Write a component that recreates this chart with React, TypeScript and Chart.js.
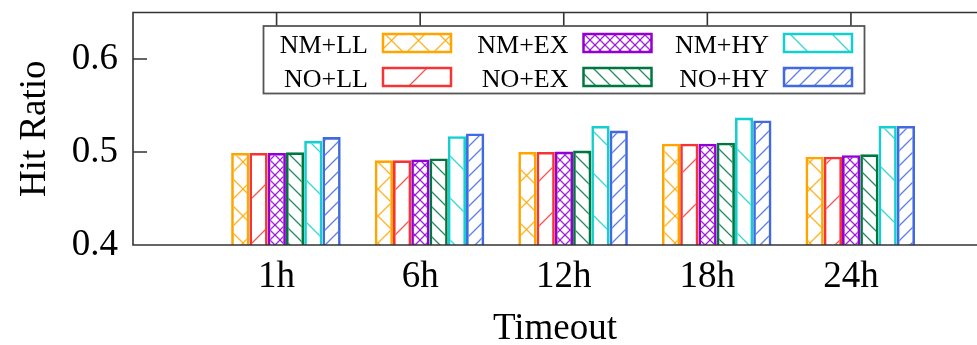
import { useEffect, useRef } from 'react';
import { Chart, registerables } from 'chart.js';

Chart.register(...registerables);

// ---- data ----
const categories = ['1h', '6h', '12h', '18h', '24h'];
const seriesNames = ['NM+LL', 'NO+LL', 'NM+EX', 'NO+EX', 'NM+HY', 'NO+HY'];
const nmLL = [0.499, 0.491, 0.5, 0.509, 0.495];
const noLL = [0.499, 0.491, 0.5, 0.509, 0.495];
const nmEX = [0.499, 0.492, 0.5005, 0.509, 0.4965];
const noEX = [0.4997, 0.493, 0.5015, 0.51, 0.4975];
const nmHY = [0.512, 0.517, 0.528, 0.537, 0.528];
const noHY = [0.516, 0.52, 0.523, 0.534, 0.528];
const seriesValues = [nmLL, noLL, nmEX, noEX, nmHY, noHY];
const yTicks = [0.4, 0.5, 0.6];

// ---- styles ----
const FONT = "'Liberation Serif', 'Times New Roman', serif";
const GROUP_SHIFT = 0.065;
const seriesStyles = [
  { color: '#FFA500', kind: 'x', period: 27 },
  { color: '#F53535', kind: '/', period: 45 },
  { color: '#9400D3', kind: 'x', period: 10 },
  { color: '#00773F', kind: '\\', period: 15 },
  { color: '#14CFCF', kind: '\\', period: 42 },
  { color: '#4169E1', kind: '/', period: 15 },
];

function makePattern(color: string, kind: string, T: number) {
  const c = document.createElement('canvas');
  c.width = T;
  c.height = T;
  const g = c.getContext('2d')!;
  g.strokeStyle = color;
  g.globalAlpha = 0.85;
  g.lineWidth = 1.3;
  const slash = () => {
    g.beginPath();
    g.moveTo(-1, T + 1); g.lineTo(T + 1, -1);
    g.moveTo(-2, 2); g.lineTo(2, -2);
    g.moveTo(T - 2, T + 2); g.lineTo(T + 2, T - 2);
    g.stroke();
  };
  const back = () => {
    g.beginPath();
    g.moveTo(-1, -1); g.lineTo(T + 1, T + 1);
    g.moveTo(T - 2, -2); g.lineTo(T + 2, 2);
    g.moveTo(-2, T - 2); g.lineTo(2, T + 2);
    g.stroke();
  };
  if (kind === '/' || kind === 'x') slash();
  if (kind === '\\' || kind === 'x') back();
  return g.createPattern(c, 'repeat')!;
}

export default function App() {
  const ref = useRef<HTMLCanvasElement | null>(null);

  useEffect(() => {
    if (!ref.current) return;
    const patterns = seriesStyles.map((s) => makePattern(s.color, s.kind, s.period));

    const framePlugin = {
      id: 'frameAndLegend',
      afterDatasetsDraw(chart: any) {
        const { ctx, chartArea: a, scales } = chart;
        ctx.save();
        ctx.strokeStyle = '#333';
        ctx.lineWidth = 1.6;
        ctx.beginPath();
        ctx.moveTo(a.right + 5, a.top);
        ctx.lineTo(a.left, a.top);
        ctx.lineTo(a.left, a.bottom);
        ctx.lineTo(a.right + 5, a.bottom);
        for (const v of yTicks) {
          const y = scales.y.getPixelForValue(v);
          ctx.moveTo(a.left, y);
          ctx.lineTo(a.left + 14, y);
        }
        categories.forEach((_, i) => {
          const x = scales.x.getPixelForValue(i);
          ctx.moveTo(x, a.top);
          ctx.lineTo(x, a.top + 20);
        });
        ctx.stroke();

        // legend
        const lx = 263.5, ly = 26, lw = 601, lh = 67.5;
        ctx.fillStyle = '#fff';
        ctx.fillRect(lx, ly, lw, lh);
        ctx.strokeStyle = '#555';
        ctx.lineWidth = 1.8;
        ctx.strokeRect(lx, ly, lw, lh);
        ctx.font = `26px ${FONT}`;
        ctx.textAlign = 'right';
        ctx.textBaseline = 'middle';
        ctx.fillStyle = '#000';
        seriesNames.forEach((name, k) => {
          const col = Math.floor(k / 2);
          const row = k % 2;
          const textRight = 368 + col * 200.5;
          const textY = 46 + row * 34.5;
          ctx.fillText(name, textRight, textY);
          const sx = 383 + col * 200.5;
          const sy = 34 + row * 34;
          ctx.fillStyle = patterns[k];
          ctx.fillRect(sx, sy, 68, 18);
          ctx.strokeStyle = seriesStyles[k].color;
          ctx.lineWidth = 2.5;
          ctx.strokeRect(sx, sy, 68, 18);
          ctx.fillStyle = '#000';
        });
        ctx.restore();
      },
    };

    const chart = new Chart(ref.current, {
      type: 'bar',
      data: {
        datasets: seriesNames.map((name, k) => ({
          label: name,
          data: seriesValues[k].map((v, i) => ({ x: i + GROUP_SHIFT, y: v })),
          backgroundColor: patterns[k],
          borderColor: seriesStyles[k].color,
          borderWidth: 2.6,
          borderSkipped: false,
          categoryPercentage: 0.763,
          barPercentage: 1,
        })),
      },
      options: {
        animation: false,
        responsive: true,
        maintainAspectRatio: false,
        layout: { padding: { top: 12.5, left: 0, right: 0, bottom: 0 } },
        plugins: { legend: { display: false }, tooltip: { enabled: false } },
        scales: {
          x: {
            type: 'linear',
            position: 'bottom',
            min: -1,
            max: 4.878,
            offset: false,
            grid: { display: false, drawTicks: false },
            border: { display: false },
            afterBuildTicks: (s: any) => {
              s.ticks = categories.map((_, i) => ({ value: i }));
            },
            ticks: {
              callback: (v: any) => categories[v] ?? '',
              font: { family: FONT, size: 37 },
              color: '#000',
              padding: 10,
              maxRotation: 0,
              autoSkip: false,
            },
            title: {
              display: true,
              text: 'Timeout',
              font: { family: FONT, size: 37 },
              color: '#000',
              padding: { top: 0, bottom: -6 },
            },
            afterFit: (s: any) => {
              s.height = 100;
              s.paddingLeft = 0;
              s.paddingRight = 0;
            },
          },
          y: {
            type: 'linear',
            min: 0.4,
            max: 0.65,
            grid: { display: false, drawTicks: false },
            border: { display: false },
            afterBuildTicks: (s: any) => {
              s.ticks = yTicks.map((v) => ({ value: v }));
            },
            ticks: {
              callback: (v: any) => Number(v).toFixed(1),
              font: { family: FONT, size: 37 },
              color: '#000',
              padding: 15,
            },
            title: {
              display: true,
              text: 'Hit Ratio',
              font: { family: FONT, size: 37 },
              color: '#000',
              padding: { top: 13, bottom: 0 },
            },
            afterFit: (s: any) => {
              s.width = 133;
              s.paddingTop = 0;
              s.paddingBottom = 0;
            },
          },
        },
      } as any,
      plugins: [framePlugin],
    });
    return () => chart.destroy();
  }, []);

  return (
    <div style={{ position: 'fixed', left: 0, top: 0, width: 977, height: 345, background: '#fff' }}>
      <canvas ref={ref} />
    </div>
  );
}
